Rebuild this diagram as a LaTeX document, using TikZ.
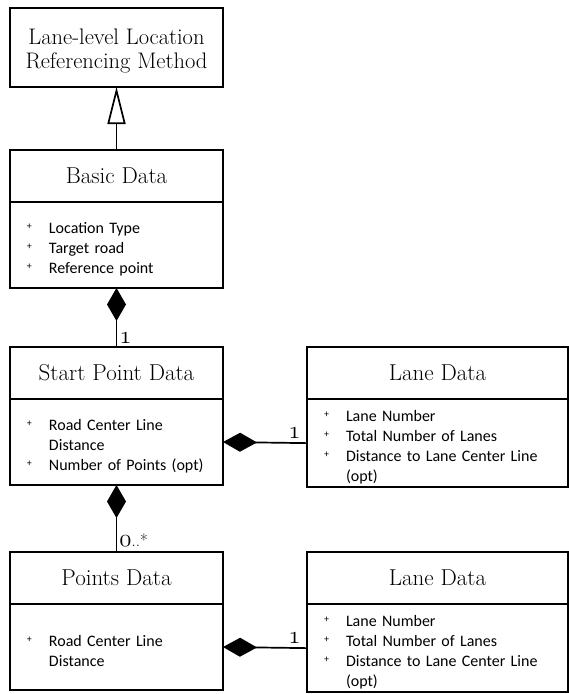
\documentclass[tikz,border=0pt]{standalone}
\usepackage{fontspec}
\newfontfamily\bodyfont{Carlito}
\usetikzlibrary{positioning,arrows.meta}
\newcommand{\osnum}[1]{{\fontsize{25}{25}\usefont{OML}{cmm}{m}{it}#1}}
\newcommand{\plusitem}{\makebox[31pt][l]{\hspace{9pt}\raisebox{4pt}{\fontsize{10}{10}\selectfont +}}}
\newcommand{\itemgap}{\hspace*{31pt}}
\tikzset{
        classtitle/.style={draw, line width=1.7pt, outer sep=0pt, minimum width=213pt, minimum height=52pt, font=\fontsize{23}{25}\selectfont},
        classbody/.style={draw, line width=1.7pt, outer sep=0pt, inner xsep=8pt, text width=197pt, minimum height=86pt, align=left, font=\bodyfont\fontsize{16}{20}\selectfont, execute at begin node={\rule{0pt}{19pt}}},
        mult/.style={font=\fontsize{17}{20}\selectfont, inner sep=2pt},
        assoc/.style={line width=1.7pt},
}
\begin{document}
\begin{tikzpicture}[x=1pt,y=-1pt]
        \useasboundingbox (0,0) rectangle (569,694);
        \node[classtitle, minimum height=79pt, align=center, font=\fontsize{22.5}{24}\selectfont] (llrm) at (116.5,47.5) {\rule{0pt}{22.5pt}Lane-level Location\\Referencing Method};
        \node[classtitle] (basic) at (116.5,176) {Basic Data};
        \node[classbody, below=0pt of basic] (basicb) {\plusitem Location Type\\\plusitem Target road\\\plusitem Reference point};
        \draw[assoc, -{Triangle[open, length=37pt, width=18pt]}] (basic.north) -- (llrm.south);
        \node[classtitle] (start) at (116.5,373) {Start Point Data};
        \node[classbody, below=0pt of start] (startb) {\plusitem Road Center Line\\\itemgap Distance\\\plusitem Number of Points (opt)};
        \draw[assoc, {Diamond[length=33pt, width=19pt]}-] (basicb.south) -- node[mult, pos=0.85, right] {\osnum{1}} (start.north);
        \node[classtitle, minimum width=261pt] (lane) at (437.5,373) {Lane Data};
        \node[classbody, text width=245pt, below=0pt of lane] (laneb) {\plusitem Lane Number\\\plusitem Total Number of Lanes\\\plusitem Distance to Lane Center Line\\\itemgap (opt)};
        \draw[assoc, {Diamond[length=34pt, width=19pt]}-] (startb.east) -- node[mult, pos=0.85, above=2pt] {\osnum{1}} (laneb.west);
        \node[classtitle] (points) at (116.5,578) {Points Data};
        \node[classbody, below=0pt of points] (pointsb) {\plusitem Road Center Line\\\itemgap Distance};
        \draw[assoc, {Diamond[length=33pt, width=19pt]}-] (startb.south) -- node[mult, pos=0.83, right] {\osnum{0}..*} (points.north);
        \node[classtitle, minimum width=261pt] (lane2) at (437.5,578) {Lane Data};
        \node[classbody, text width=245pt, below=0pt of lane2] (lane2b) {\plusitem Lane Number\\\plusitem Total Number of Lanes\\\plusitem Distance to Lane Center Line\\\itemgap (opt)};
        \draw[assoc, {Diamond[length=34pt, width=19pt]}-] (pointsb.east) -- node[mult, pos=0.85, above=2pt] {\osnum{1}} (lane2b.west);
\end{tikzpicture}
\end{document}
